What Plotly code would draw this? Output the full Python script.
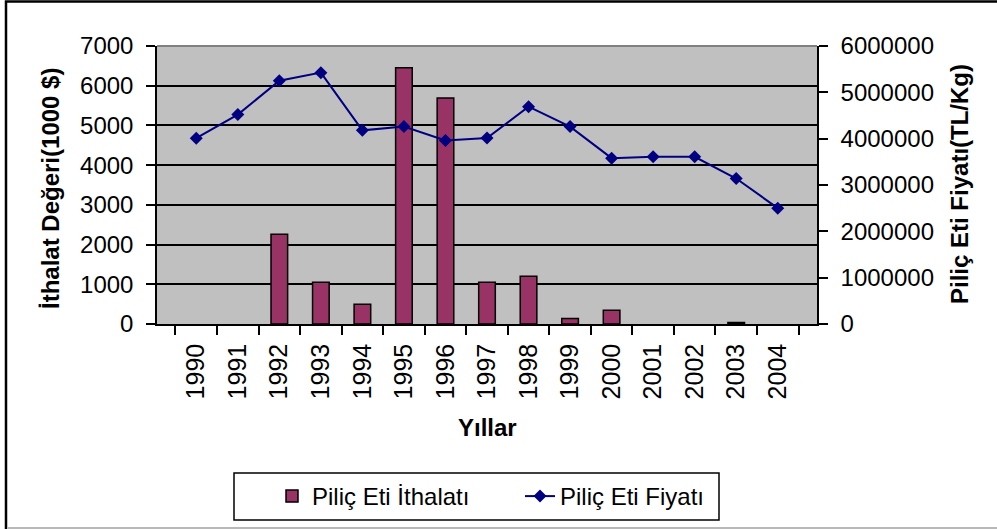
import plotly.graph_objects as go

years = ["1990", "1991", "1992", "1993", "1994", "1995", "1996", "1997",
         "1998", "1999", "2000", "2001", "2002", "2003", "2004"]
ithalat = [None, None, 2260, 1050, 500, 6450, 5690, 1050, 1200, 140, 345, None, None, 40, None]
fiyat = [4010000, 4520000, 5250000, 5425000, 4180000, 4260000, 3960000, 4015000,
         4690000, 4260000, 3580000, 3610000, 3610000, 3140000, 2500000]

left_ticks = [0, 1000, 2000, 3000, 4000, 5000, 6000, 7000]
right_ticks = [0, 1000000, 2000000, 3000000, 4000000, 5000000, 6000000]

FONT = "Arial, Liberation Sans, sans-serif"
W, H = 997, 529
L, R, T, B = 157, 180, 46, 205
PW, PH = W - L - R, H - T - B


def px2x(px):
    return (px - L) / PW


def py2y(py):
    return (H - B - py) / PH


fig = go.Figure()
fig.add_trace(go.Bar(
    x=years, y=ithalat, name="Piliç Eti İthalatı",
    marker=dict(color="#993366", line=dict(color="black", width=1.5)),
    yaxis="y",
))
fig.add_trace(go.Scatter(
    x=years, y=fiyat, name="Piliç Eti Fiyatı", mode="lines+markers",
    line=dict(color="#000080", width=2),
    marker=dict(symbol="diamond", size=10, color="#000080"),
    yaxis="y2",
))

fig.update_layout(
    width=W, height=H,
    margin=dict(l=L, r=R, t=T, b=B, autoexpand=False),
    paper_bgcolor="white", plot_bgcolor="#C0C0C0",
    font=dict(family=FONT, size=24, color="black"),
    bargap=0.6,
    showlegend=True,
    legend=dict(orientation="h", x=px2x(272), y=py2y(474), xanchor="left", yanchor="top",
                bgcolor="rgba(0,0,0,0)", borderwidth=0, entrywidth=203,
                font=dict(family=FONT, size=24, color="black")),
    xaxis=dict(type="category", showline=True, linecolor="black", linewidth=1.5,
               ticks="outside", tickson="boundaries", ticklen=9, tickwidth=1.5,
               tickcolor="black", tickangle=-90, ticklabelstandoff=8,
               tickfont=dict(size=25), showgrid=False),
    yaxis=dict(range=[0, 7000], tickvals=left_ticks, tickformat="d",
               showline=True, linecolor="black", linewidth=1.5,
               ticks="outside", ticklen=9, tickwidth=1.5, tickcolor="black",
               ticklabelstandoff=8,
               showgrid=True, gridcolor="black", gridwidth=1.5, zeroline=False,
               tickfont=dict(size=24)),
    yaxis2=dict(range=[0, 6000000], tickvals=right_ticks, tickformat="d",
                overlaying="y", side="right",
                showline=True, linecolor="black", linewidth=1.5,
                ticks="outside", ticklen=9, tickwidth=1.5, tickcolor="black",
                ticklabelstandoff=8,
                showgrid=False, zeroline=False, tickfont=dict(size=24)),
    annotations=[
        dict(text="<b>İthalat Değeri(1000 $)</b>", xref="paper", yref="paper",
             x=px2x(50), y=py2y(189), xanchor="center", yanchor="middle",
             textangle=-90, showarrow=False, font=dict(size=24, family=FONT)),
        dict(text="<b>Piliç Eti Fiyatı(TL/Kg)</b>", xref="paper", yref="paper",
             x=px2x(959), y=py2y(184), xanchor="center", yanchor="middle",
             textangle=-90, showarrow=False, font=dict(size=24, family=FONT)),
        dict(text="<b>Yıllar</b>", xref="paper", yref="paper",
             x=px2x(487), y=py2y(427), xanchor="center", yanchor="middle",
             showarrow=False, font=dict(size=24, family=FONT)),
    ],
    shapes=[
        dict(type="line", xref="paper", yref="paper", x0=0, x1=1, y0=1, y1=1,
             line=dict(color="#808080", width=2)),
        dict(type="rect", xref="paper", yref="paper",
             x0=px2x(6), x1=px2x(1010), y0=py2y(1.5), y1=py2y(545),
             line=dict(color="black", width=2.5)),
        dict(type="line", xref="paper", yref="paper",
             x0=px2x(8), x1=px2x(1000), y0=py2y(528), y1=py2y(528),
             line=dict(color="#A0A0A0", width=1.5)),
        dict(type="rect", xref="paper", yref="paper",
             x0=px2x(234), x1=px2x(719), y0=py2y(473), y1=py2y(520),
             line=dict(color="black", width=1.5)),
    ],
)

fig.write_html("out.html", config={"displayModeBar": False},
               post_script="document.body.style.margin='0';document.body.style.overflow='hidden';")
